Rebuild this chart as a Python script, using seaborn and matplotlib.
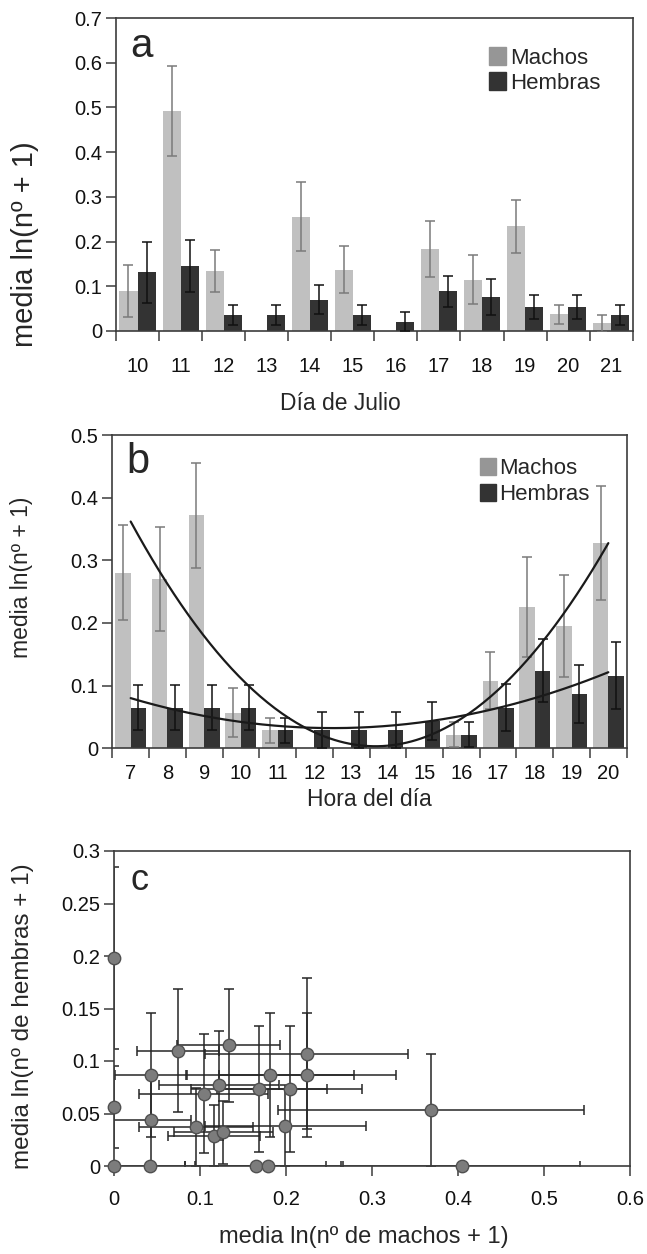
import numpy as np
import pandas as pd
import matplotlib
matplotlib.use("Agg")
import matplotlib.pyplot as plt
import seaborn as sns
from matplotlib.patches import Patch
from matplotlib.ticker import FixedLocator, FuncFormatter

# ---------------- data ----------------
dias = ["10", "11", "12", "13", "14", "15", "16", "17", "18", "19", "20", "21"]
a_machos = [0.089, 0.492, 0.134, 0.0, 0.256, 0.137, 0.0, 0.184, 0.115, 0.234, 0.037, 0.017]
a_machos_err = [0.058, 0.100, 0.047, 0.0, 0.077, 0.052, 0.0, 0.063, 0.054, 0.060, 0.021, 0.019]
a_hembras = [0.131, 0.145, 0.036, 0.036, 0.070, 0.036, 0.021, 0.089, 0.076, 0.053, 0.053, 0.036]
a_hembras_err = [0.068, 0.058, 0.022, 0.022, 0.032, 0.022, 0.022, 0.035, 0.040, 0.027, 0.027, 0.022]

horas = ["7", "8", "9", "10", "11", "12", "13", "14", "15", "16", "17", "18", "19", "20"]
b_machos = [0.280, 0.270, 0.372, 0.057, 0.029, 0.0, 0.0, 0.0, 0.0, 0.022, 0.108, 0.226, 0.195, 0.327]
b_machos_err = [0.076, 0.083, 0.084, 0.039, 0.020, 0.0, 0.0, 0.0, 0.0, 0.020, 0.045, 0.080, 0.082, 0.091]
b_hembras = [0.065, 0.065, 0.065, 0.065, 0.029, 0.029, 0.029, 0.029, 0.044, 0.022, 0.065, 0.124, 0.087, 0.116]
b_hembras_err = [0.036, 0.036, 0.036, 0.036, 0.020, 0.029, 0.029, 0.029, 0.030, 0.020, 0.037, 0.050, 0.046, 0.053]

c_machos = [0.0, 0.0, 0.0, 0.041, 0.043, 0.043, 0.074, 0.133, 0.224, 0.2245, 0.181, 0.122,
            0.168, 0.204, 0.104, 0.095, 0.116, 0.127, 0.199, 0.3685, 0.404, 0.1645, 0.179]
c_hembras = [0.198, 0.056, 0.0, 0.0, 0.087, 0.044, 0.110, 0.115, 0.107, 0.087, 0.087, 0.077,
             0.073, 0.073, 0.069, 0.037, 0.029, 0.032, 0.0385, 0.053, 0.0, 0.0, 0.0]
c_machos_err = [0.0, 0.0, 0.0, 0.041, 0.042, 0.046, 0.048, 0.060, 0.118, 0.103, 0.098, 0.070,
                0.079, 0.084, 0.075, 0.066, 0.054, 0.058, 0.094, 0.178, 0.138, 0.082, 0.085]
c_hembras_err = [0.087, 0.039, 0.0, 0.0, 0.059, 0.044, 0.059, 0.054, 0.072, 0.059, 0.059, 0.052,
                 0.060, 0.060, 0.057, 0.037, 0.029, 0.030, 0.0385, 0.054, 0.0, 0.0, 0.0]

series = ["Machos", "Hembras"]
ticks_a = [0, 0.1, 0.2, 0.3, 0.4, 0.5, 0.6, 0.7]
ticks_b = [0, 0.1, 0.2, 0.3, 0.4, 0.5]
ticks_cy = [0, 0.05, 0.1, 0.15, 0.2, 0.25, 0.3]
ticks_cx = [0, 0.1, 0.2, 0.3, 0.4, 0.5, 0.6]

# ---------------- style ----------------
sns.set_style("ticks")
plt.rcParams["font.family"] = ["Liberation Sans", "DejaVu Sans"]
SPINE = "#3c3c3c"
C_M = "#c0c0c0"
C_M_LEG = "#969696"
C_H = "#333333"
TICK_FS = 14.5

fig = plt.figure(figsize=(6.47, 12.54), dpi=100)
W, H = 647.0, 1254.0


def add_ax(l, t, r, b):
    return fig.add_axes([l / W, 1 - b / H, (r - l) / W, (b - t) / H])


ax_a = add_ax(116, 18, 632.7, 331)
ax_b = add_ax(112.3, 435, 626.7, 748.3)
ax_c = add_ax(114.3, 851, 630, 1166)

fmt = FuncFormatter(lambda v, p: f"{v:g}")


def style_axes(ax):
    for s in ax.spines.values():
        s.set_visible(True)
        s.set_color(SPINE)
        s.set_linewidth(1.2)
    ax.tick_params(axis="both", which="both", direction="out", color=SPINE, width=1.1,
                   labelsize=TICK_FS, labelcolor="#111111")


def bar_panel(ax, cats, m, me, h, he, yticks, ymax, xpad):
    df = pd.DataFrame({
        "cat": cats * 2,
        "val": m + h,
        "sexo": [series[0]] * len(cats) + [series[1]] * len(cats),
    })
    sns.barplot(data=df, x="cat", y="val", hue="sexo", order=cats, hue_order=series,
                palette=[C_M, C_H], width=0.84, errorbar=None, linewidth=0,
                saturation=1, legend=False, ax=ax)
    n = len(cats)
    bars = sorted(ax.patches, key=lambda p: p.get_x())
    errs = []
    for i in range(n):
        errs.append((m[i], me[i], "m"))
        errs.append((h[i], he[i], "h"))
    for p, (v, e, k) in zip(bars, errs):
        xc = p.get_x() + p.get_width() / 2
        if e > 0:
            ax.errorbar(xc, v, yerr=e, fmt="none",
                        ecolor="#7a7a7a" if k == "m" else "#111111",
                        elinewidth=1.1, capsize=3.5, capthick=1.1, zorder=3)
    ax.set_xlim(-0.5, n - 0.5)
    ax.set_ylim(0, ymax)
    ax.yaxis.set_major_locator(FixedLocator(yticks))
    ax.yaxis.set_major_formatter(fmt)
    ax.xaxis.set_minor_locator(FixedLocator(np.arange(-0.5, n, 1.0)))
    style_axes(ax)
    ax.tick_params(axis="x", which="major", length=0, pad=xpad)
    ax.tick_params(axis="x", which="minor", length=7)
    ax.tick_params(axis="y", which="major", length=7, pad=3)
    ax.set_xlabel("")
    ax.set_ylabel("")


# ---------------- panel a ----------------
bar_panel(ax_a, dias, a_machos, a_machos_err, a_hembras, a_hembras_err, ticks_a, 0.7, 19)
ax_a.set_xlabel("Día de Julio", fontsize=16.5)
ax_a.xaxis.set_label_coords((340 - 116) / 516.7, (331 - 404) / 313.0)
ax_a.set_ylabel("media ln(nº + 1)", fontsize=21)
ax_a.yaxis.set_label_coords((25 - 116) / 516.7, (331 - 244) / 313.0)
ax_a.xaxis.label.set_va("center")
ax_a.yaxis.label.set_va("center")
ax_a.text(0.027, 0.875, "a", transform=ax_a.transAxes, fontsize=29, va="baseline", ha="left")
ax_a.legend(handles=[Patch(color=C_M_LEG), Patch(color=C_H)], labels=series,
            loc="upper left", bbox_to_anchor=(0.722, 0.907), frameon=False, fontsize=16,
            handlelength=0.75, handleheight=0.85, handletextpad=0.2, labelspacing=0.15,
            borderpad=0, borderaxespad=0)

# ---------------- panel b ----------------
bar_panel(ax_b, horas, b_machos, b_machos_err, b_hembras, b_hembras_err, ticks_b, 0.5, 11)
xpos = np.arange(len(horas))
xs = np.linspace(0, len(horas) - 1, 200)
fit_m = np.polyfit(xpos, b_machos, 2)
fit_h = np.polyfit(xpos, b_hembras, 2)
ax_b.plot(xs, np.polyval(fit_m, xs), color="#1a1a1a", lw=1.6, zorder=4)
ax_b.plot(xs, np.polyval(fit_h, xs), color="#1a1a1a", lw=1.6, zorder=4)
ax_b.set_xlabel("Hora del día", fontsize=16.5)
ax_b.xaxis.set_label_coords(0.5, (748.3 - 800) / 313.3)
ax_b.set_ylabel("media ln(nº + 1)", fontsize=16.5)
ax_b.yaxis.set_label_coords((21.7 - 112.3) / 514.4, (748.3 - 577.5) / 313.3)
ax_b.xaxis.label.set_va("center")
ax_b.yaxis.label.set_va("center")
ax_b.text(0.028, 0.879, "b", transform=ax_b.transAxes, fontsize=30, va="baseline", ha="left")
ax_b.legend(handles=[Patch(color=C_M_LEG), Patch(color=C_H)], labels=series,
            loc="upper left", bbox_to_anchor=(0.714, 0.928), frameon=False, fontsize=16,
            handlelength=0.75, handleheight=0.85, handletextpad=0.15, labelspacing=0.2,
            borderpad=0, borderaxespad=0)

# ---------------- panel c ----------------
ax_c.errorbar(c_machos, c_hembras, xerr=c_machos_err, yerr=c_hembras_err, fmt="none",
              ecolor="#262626", elinewidth=1.1, capsize=3.5, capthick=1.1, zorder=2)
sns.scatterplot(x=c_machos, y=c_hembras, s=80, color="#7c7c7c", edgecolor="#505050",
                linewidth=1.0, zorder=3, clip_on=False, ax=ax_c)
ax_c.set_xlim(0, 0.6)
ax_c.set_ylim(0, 0.3)
ax_c.xaxis.set_major_locator(FixedLocator(ticks_cx))
ax_c.yaxis.set_major_locator(FixedLocator(ticks_cy))
ax_c.xaxis.set_major_formatter(fmt)
ax_c.yaxis.set_major_formatter(fmt)
style_axes(ax_c)
ax_c.tick_params(axis="both", which="major", length=7)
ax_c.tick_params(axis="x", pad=10)
ax_c.tick_params(axis="y", pad=3)
ax_c.set_xlabel("media ln(nº de machos + 1)", fontsize=17)
ax_c.xaxis.set_label_coords((364 - 114.3) / 515.7, (1166 - 1236.7) / 315.0)
ax_c.set_ylabel("media ln(nº de hembras + 1)", fontsize=17.5)
ax_c.yaxis.set_label_coords((23 - 114.3) / 515.7, (1166 - 1016) / 315.0)
ax_c.xaxis.label.set_va("center")
ax_c.yaxis.label.set_va("center")
ax_c.text(0.032, 0.876, "c", transform=ax_c.transAxes, fontsize=26, va="baseline", ha="left")

fig.savefig("out.png", dpi=100)
